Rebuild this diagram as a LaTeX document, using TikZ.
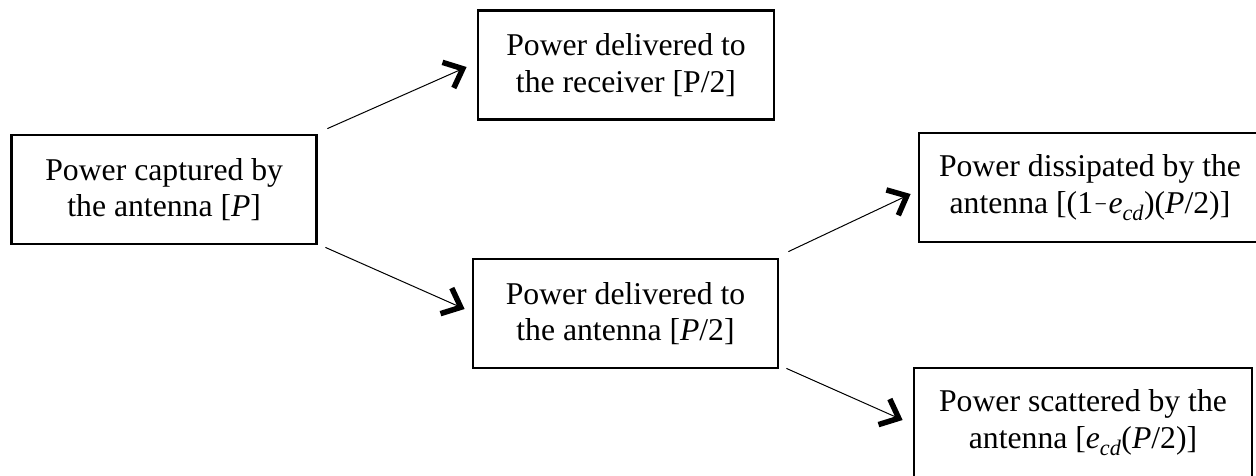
\documentclass[tikz,border=0pt]{standalone}
\usepackage{fontspec}
\setmainfont{Liberation Serif}
\usetikzlibrary{arrows.meta}
\tikzset{
  box/.style={draw, line width=2.8pt, inner sep=0pt, align=center,
    minimum height=109pt, font=\fontsize{31.7}{36.5}\selectfont},
  arr/.style={line width=1pt, -{Straight Barb[length=16pt, width=28pt, line width=5.5pt]}}
}
\begin{document}
\begin{tikzpicture}[x=1pt,y=-1pt]
\useasboundingbox (0,0) rectangle (1256,475);
\node[box, minimum width=305pt] (A) at (164.2,189.5) {Power captured by\\the antenna [\textit{P}]};
\node[box, minimum width=296pt] (B) at (626,65) {Power delivered to\\the receiver [P/2]};
\node[box, minimum width=305pt] (C) at (625.5,313.5) {Power delivered to\\the antenna [\textit{P}/2]};
\node[box, minimum width=342pt] (D) at (1090,187.5) {Power dissipated by the\\antenna [(1\kern1.5pt{\fontsize{22}{22}\selectfont\raisebox{2pt}{−}}\kern1.5pt\textit{e}\textsubscript{\textit{cd}})(\textit{P}/2)]};
\node[box, minimum width=338pt] (E) at (1083,422.5) {Power scattered by the\\antenna [\textit{e}\textsubscript{\textit{cd}}(\textit{P}/2)]};
\draw[arr] ([xshift=9.3pt,yshift=5pt]A.north east) -- ([xshift=-10pt,yshift=-2pt]B.west);
\draw[arr] ([xshift=7.3pt,yshift=-2pt]A.south east) -- ([xshift=-7pt,yshift=4.5pt]C.west);
\draw[arr] ([xshift=9pt,yshift=6pt]C.north east) -- ([xshift=-7pt,yshift=-6.5pt]D.west);
\draw[arr] ([xshift=7pt,yshift=1pt]C.south east) -- ([xshift=-10pt,yshift=2.5pt]E.west);
\end{tikzpicture}
\end{document}
